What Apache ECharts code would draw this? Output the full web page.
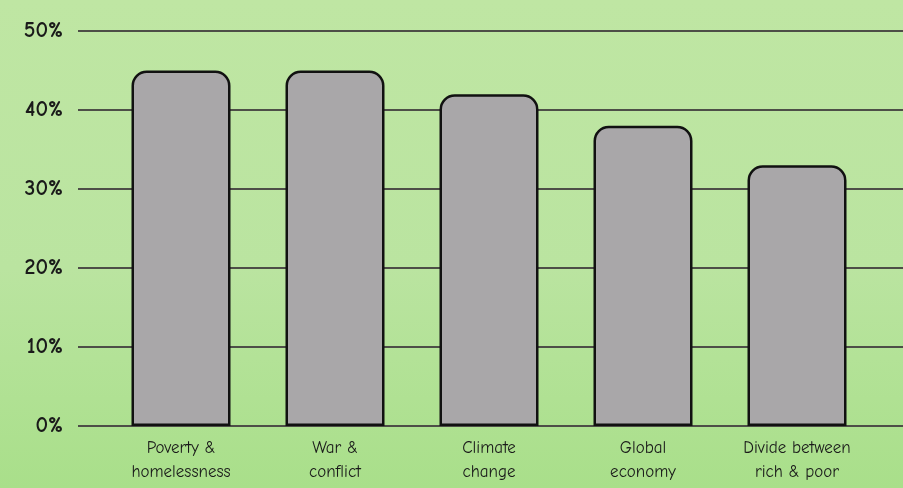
<!DOCTYPE html>
<html><head><meta charset="utf-8">
<script src="https://cdn.jsdelivr.net/npm/echarts@6/dist/echarts.min.js"></script>
<style>html,body{margin:0;padding:0;}#c{width:903px;height:488px;}</style>
</head><body><div id="c"></div>
<script>
const categories = ['Poverty &\nhomelessness', 'War &\nconflict', 'Climate\nchange', 'Global\neconomy', 'Divide between\nrich & poor'];
const values = [45, 45, 42, 38, 33];
const yTicks = [0, 10, 20, 30, 40, 50];

const chart = echarts.init(document.getElementById('c'));
const font = '"Comic Neue", "Noto Sans", sans-serif';
chart.setOption({
  backgroundColor: {
    type: 'linear', x: 0, y: 0, x2: 0, y2: 1,
    colorStops: [
      { offset: 0, color: '#bfe6a3' },
      { offset: 0.55, color: '#bae4a0' },
      { offset: 1, color: '#a9df8a' }
    ]
  },
  grid: [
    { left: 78, right: 0, top: 31, bottom: 62 },
    { left: 104, right: 29, top: 31, bottom: 62 }
  ],
  xAxis: [
    { type: 'value', gridIndex: 0, show: false, min: 0, max: 1 },
    {
      type: 'category', gridIndex: 1, data: categories,
      axisLine: { show: false }, axisTick: { show: false },
      axisLabel: { color: '#1a1a1a', fontSize: 17, fontFamily: font, lineHeight: 24, margin: 10, interval: 0 }
    }
  ],
  yAxis: [
    {
      type: 'value', gridIndex: 0, min: yTicks[0], max: yTicks[yTicks.length - 1], interval: 10,
      axisLine: { show: false }, axisTick: { show: false },
      axisLabel: { formatter: '{value}%', color: '#1a1a1a', fontSize: 22, fontWeight: 'bold', fontFamily: font, margin: 15 },
      splitLine: { lineStyle: { color: '#4d4e47', width: 2 } }
    },
    {
      type: 'value', gridIndex: 1, min: yTicks[0], max: yTicks[yTicks.length - 1], interval: 10,
      show: false, splitLine: { show: false }
    }
  ],
  series: [{
    type: 'bar', xAxisIndex: 1, yAxisIndex: 1, data: values, barWidth: 99,
    itemStyle: { color: '#a9a7a9', borderColor: '#111', borderWidth: 2.5, borderRadius: [14, 14, 0, 0] },
    z: 3
  }]
});
</script></body></html>
